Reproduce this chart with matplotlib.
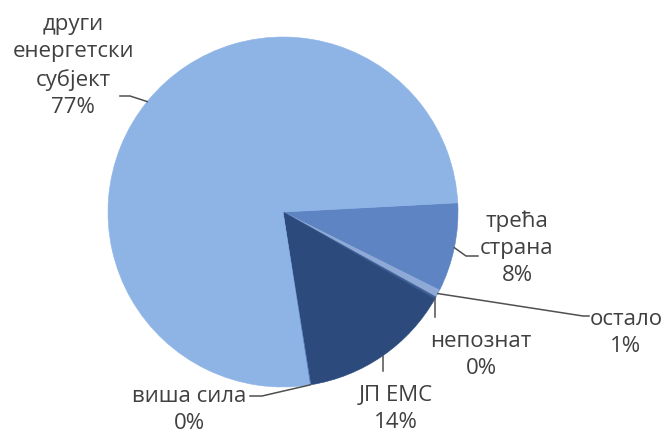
import numpy as np
import matplotlib
matplotlib.use("Agg")
import matplotlib.pyplot as plt

# udeli po uzrocima (redosled u smeru kazaljke od 3 sata)
names = ["трећа\nстрана", "остало", "непознат", "ЈП ЕМС", "виша сила", "други\nенергетски\nсубјект"]
shares = [8.2, 0.7, 0.2, 14.2, 0.1, 76.6]
colors = ["#5e84c4", "#8ea9d6", "#3d5e96", "#2c4b7c", "#5d84c2", "#8eb4e6"]

plt.rcParams['font.family'] = ['Open Sans', 'DejaVu Sans']
txt_color = "#404040"
line_color = "#505050"

fig = plt.figure(figsize=(6.66, 4.36), dpi=100)
ax = fig.add_axes([0, 0, 1, 1])

# koordinate u pikselima, y ide nadole
cx, cy, r = 283, 212, 175
wedges, _ = ax.pie(shares, colors=colors, startangle=-3, counterclock=True,
                   center=(cx, cy), radius=r, frame=True)
# ivica iste boje kao isecak, da se ne vide tanke linije izmedju
for w, c in zip(wedges, colors):
    w.set_edgecolor(c)
    w.set_linewidth(0.4)
ax.set_xlim(0, 666)
ax.set_ylim(436, 0)
ax.set_aspect('equal')
ax.axis('off')

def edge_point(w):
    a = np.deg2rad((w.theta1 + w.theta2) / 2)
    return cx + r * np.cos(a), cy + r * np.sin(a)

# polozaj teksta i prelom linije vodilje
label_pos = [(517, 248), (626, 333), (481, 355), (396, 409), (189, 410), (73, 66)]
leader_mid = [(466, 256), (583, 316), None, None, (262, 396), (130, 96)]
leader_end = [(478, 256), (589, 316), (0, 317), (0, 371), (250, 396), (120, 96)]

for i, w in enumerate(wedges):
    x0, y0 = edge_point(w)
    if leader_mid[i] is None:
        # vertikalna linija
        xs = [x0, x0]
        ys = [y0, leader_end[i][1]]
    else:
        xs = [x0, leader_mid[i][0], leader_end[i][0]]
        ys = [y0, leader_mid[i][1], leader_end[i][1]]
    ax.plot(xs, ys, color=line_color, lw=1.1)
    pct = "{:.0f}%".format(shares[i])
    ax.text(label_pos[i][0], label_pos[i][1], names[i] + "\n" + pct,
            ha='center', va='center', fontsize=16, color=txt_color,
            linespacing=1.38)

fig.savefig("out.png", dpi=100, facecolor="white")
